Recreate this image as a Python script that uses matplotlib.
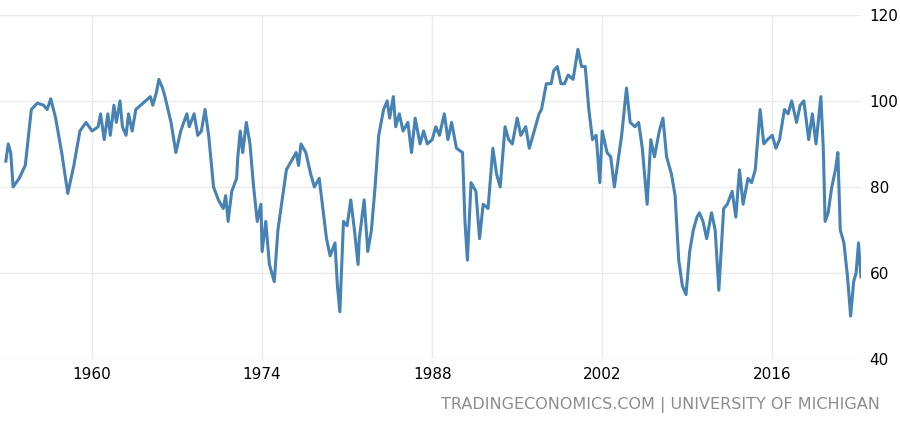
import matplotlib
matplotlib.use('Agg')
import matplotlib.pyplot as plt

years = [1952.9, 1953.1, 1953.3, 1953.5, 1954.0, 1954.5, 1955.0, 1955.5, 1956.0, 1956.3, 1956.6,
         1957.0, 1957.5, 1958.0, 1958.5, 1959.0, 1959.5, 1960.0, 1960.5, 1960.7, 1961.0, 1961.3,
         1961.5, 1961.8, 1962.0, 1962.3, 1962.5, 1962.8, 1963.0, 1963.3, 1963.6, 1964.0, 1964.4,
         1964.8, 1965.0, 1965.3, 1965.5, 1965.8, 1966.0, 1966.5, 1966.9, 1967.3, 1967.8, 1968.0,
         1968.4, 1968.7, 1969.0, 1969.3, 1969.6, 1970.0, 1970.4, 1970.8, 1971.0, 1971.2, 1971.5,
         1971.9, 1972.0, 1972.2, 1972.4, 1972.7, 1973.0, 1973.3, 1973.6, 1973.9, 1974.0, 1974.3,
         1974.6, 1975.0, 1975.3, 1975.6, 1976.0, 1976.4, 1976.8, 1977.0, 1977.2, 1977.6, 1978.0,
         1978.3, 1978.7, 1979.0, 1979.3, 1979.6, 1980.0, 1980.2, 1980.4, 1980.7, 1981.0, 1981.3,
         1981.6, 1981.9, 1982.0, 1982.4, 1982.7, 1983.0, 1983.3, 1983.6, 1984.0, 1984.3, 1984.5,
         1984.8, 1985.0, 1985.3, 1985.6, 1986.0, 1986.3, 1986.6, 1987.0, 1987.3, 1987.6, 1988.0,
         1988.3, 1988.6, 1989.0, 1989.3, 1989.6, 1990.0, 1990.5, 1990.7, 1990.9, 1991.2, 1991.6,
         1991.9, 1992.2, 1992.6, 1993.0, 1993.3, 1993.6, 1994.0, 1994.3, 1994.6, 1995.0, 1995.3,
         1995.7, 1996.0, 1996.4, 1996.8, 1997.0, 1997.4, 1997.8, 1998.0, 1998.3, 1998.6, 1998.9,
         1999.2, 1999.6, 2000.0, 2000.3, 2000.6, 2000.9, 2001.2, 2001.5, 2001.8, 2002.0, 2002.4,
         2002.7, 2003.0, 2003.3, 2003.6, 2004.0, 2004.3, 2004.7, 2005.0, 2005.3, 2005.7, 2006.0,
         2006.3, 2006.7, 2007.0, 2007.3, 2007.7, 2008.0, 2008.3, 2008.6, 2008.9, 2009.2, 2009.5,
         2009.8, 2010.0, 2010.3, 2010.6, 2011.0, 2011.3, 2011.6, 2012.0, 2012.3, 2012.7, 2013.0,
         2013.3, 2013.6, 2014.0, 2014.3, 2014.6, 2015.0, 2015.3, 2015.6, 2016.0, 2016.3, 2016.6,
         2017.0, 2017.3, 2017.6, 2018.0, 2018.3, 2018.6, 2019.0, 2019.3, 2019.6, 2020.0, 2020.2,
         2020.35, 2020.6, 2020.9, 2021.2, 2021.4, 2021.6, 2021.9, 2022.2, 2022.45, 2022.7, 2022.9,
         2023.1, 2023.3, 2023.45, 2023.55]
values = [86, 90, 88, 80, 82, 85, 98, 99.5, 99, 98, 100.5,
          96, 88, 78.5, 85, 93, 95, 93, 94, 97, 91, 97,
          92, 99, 95, 100, 94, 92, 97, 93, 98, 99, 100,
          101, 99, 102, 105, 103, 101, 95, 88, 93, 97, 94,
          97, 92, 93, 98, 92, 80, 77, 75, 78, 72, 79,
          82, 87, 93, 88, 95, 90, 80, 72, 76, 65, 72,
          62, 58, 70, 76, 84, 86, 88, 85, 90, 88, 83,
          80, 82, 75, 68, 64, 67, 57, 51, 72, 71, 77,
          70, 62, 68, 77, 65, 70, 80, 92, 98, 100, 96,
          101, 94, 97, 93, 95, 88, 96, 90, 93, 90, 91,
          94, 92, 97, 91, 95, 89, 88, 72, 63, 81, 79,
          68, 76, 75, 89, 83, 80, 94, 91, 90, 96, 92,
          94, 89, 93, 97, 98, 104, 104, 107, 108, 104, 104,
          106, 105, 112, 108, 108, 98, 91, 92, 81, 93, 88,
          87, 80, 86, 92, 103, 95, 94, 95, 89, 76, 91,
          87, 93, 96, 87, 83, 78, 63, 57, 55, 65, 70,
          73, 74, 72, 68, 74, 70, 56, 75, 76, 79, 73,
          84, 76, 82, 81, 84, 98, 90, 91, 92, 89, 91,
          98, 97, 100, 95, 99, 100, 91, 97, 90, 101, 89,
          72, 74, 80, 84, 88, 70, 67, 59, 50, 58, 60,
          67, 59, 64, 63]

xticks = [1960, 1974, 1988, 2002, 2016]
yticks = [40, 60, 80, 100, 120]

fig = plt.figure(figsize=(9, 4.24), dpi=100)
ax = fig.add_axes([0.0, 0.153, 0.957, 0.812])
ax.plot(years, values, color='#4682b4', linewidth=2.2)
ax.set_xlim(1952.42, 2023.33)
ax.set_ylim(40, 120)
ax.set_xticks(xticks)
ax.set_yticks(yticks)
ax.yaxis.tick_right()
ax.grid(True, color='#ebebeb', linewidth=1)
ax.set_axisbelow(True)
for s in ax.spines.values():
    s.set_visible(False)
ax.tick_params(length=0, labelsize=11, colors='black', pad=6)
fig.text(0.978, 0.025, 'TRADINGECONOMICS.COM | UNIVERSITY OF MICHIGAN',
         ha='right', va='bottom', color='#8c8c8c', fontsize=11.5)
fig.savefig('out.png', dpi=100)
